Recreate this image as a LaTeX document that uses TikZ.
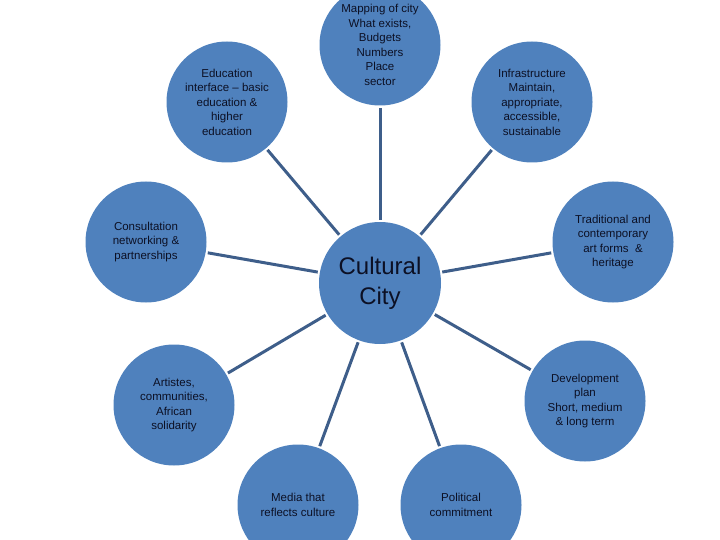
\documentclass[tikz,border=0pt]{standalone}
\usepackage{fontspec}
\setmainfont{Liberation Sans}
\definecolor{bubble}{RGB}{79,129,189}
\definecolor{spoke}{RGB}{62,94,138}
\definecolor{txt}{RGB}{12,16,36}
\begin{document}
\begin{tikzpicture}[x=1pt,y=-1pt,
  outer/.style={circle,fill=bubble,minimum size=121pt,inner sep=0pt,align=center,text=txt,font=\fontsize{11.5}{14.5}\selectfont},
  hub/.style={circle,fill=bubble,minimum size=122pt,inner sep=0pt,align=center,text=txt,font=\fontsize{24}{30}\selectfont},
  spokeline/.style={draw=spoke,line width=3pt,shorten <=2pt,shorten >=2pt}]
\useasboundingbox (0,0) rectangle (720,540);
\clip (0,0) rectangle (720,540);
\node[hub] (c) at (380,283) {Cultural\\City};
\node[outer] (map) at (380,45) {Mapping of city\\What exists,\\Budgets\\Numbers\\Place\\sector};
\node[outer] (edu) at (227,102) {Education\\interface -- basic\\education \&\\higher\\education};
\node[outer] (inf) at (532,102) {Infrastructure\\Maintain,\\appropriate,\\accessible,\\sustainable};
\node[outer] (con) at (146,242) {Consultation\\networking \&\\partnerships};
\node[outer] (tra) at (613,242) {Traditional and\\contemporary\\art forms \ \&\\heritage};
\node[outer] (art) at (174,405) {Artistes,\\communities,\\African\\solidarity};
\node[outer] (dev) at (585,401) {Development\\plan\\Short, medium\\\& long term};
\node[outer] (med) at (298,505) {Media that\\reflects culture};
\node[outer] (pol) at (461,505) {Political\\commitment};
\foreach \n in {map,edu,inf,con,tra,art,dev,med,pol}
  \draw[spokeline] (c) -- (\n);
\end{tikzpicture}
\end{document}
